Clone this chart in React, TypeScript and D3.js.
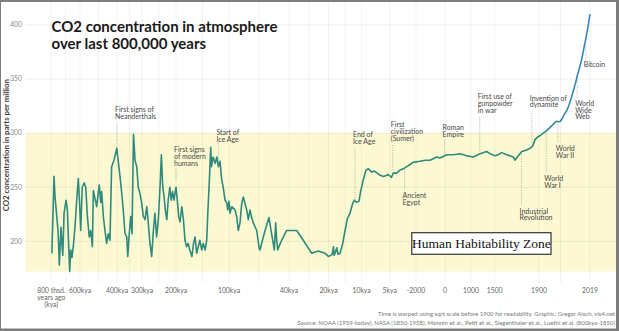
import React from 'react';
import * as d3 from 'd3';

const W = 619;
const H = 331;

// x-axis ticks (year CE; negative = BCE / years ago)
const tickYears = [-800000, -600000, -400000, -300000, -200000, -100000, -40000, -20000, -10000, -5000, -2000, 0, 1000, 1500, 1900, 2019];
const tickLabels = [
  ['800 thsd.', 'years ago', '(kya)'], ['600kya'], ['400kya'], ['300kya'], ['200kya'], ['100kya'],
  ['40kya'], ['20kya'], ['10kya'], ['5kya'], ['-2000'], ['0'], ['1000'], ['1500'], ['1900'], ['2019'],
];
const gridYears = [-800000, -700000, -600000, -500000, -400000, -350000, -300000, -250000, -200000, -150000, -100000, -70000, -40000, -30000, -20000, -15000, -10000, -5000, -2000, 0, 1000, 1500, 1900, 1950, 2019];
const yTicks = [200, 250, 300, 350, 400];
const habitableZone = [172, 300];

const years = [
  -796000, -781000, -774000, -768000, -762000, -753000, -744000, -737000, -732000, -725000, -720000, -711000, -697000, -688000, -680000, -672000, -665000, -656000, -647000, -635000, -623000, -612000, -605000,
  -596000, -588000, -577000, -569000, -560000, -550000, -542000, -533000, -528000, -517000, -510000, -501000, -496000, -488000, -483000, -474000, -465000, -456000, -447000, -438000, -429000, -416000, -405000, -401000,
  -397000, -388000, -381000, -375000, -368000, -361000, -357000, -351000, -345000, -340000, -334000, -328000, -321000, -315000, -308000, -301000,
  -296000, -291000, -286000, -281500, -276500, -271500, -266500, -262000, -257000, -252000, -247000, -243000, -239000, -235000, -231500, -227000, -223000, -218000, -214000, -210000, -206000,
  -200000, -197500, -195000, -192500, -189000, -186000, -183000, -180000, -177000, -174000, -170000, -167000, -164000, -161000, -158000, -155000, -151500, -148500, -145000, -142000, -140000, -137000, -134500, -133000, -130000, -126000, -123000, -120000, -117000, -114000, -111000, -107500, -104000, -102500,
  -100000, -99000, -97300, -94000, -92300, -90700, -89000, -87300, -85700, -84000, -82300, -80700, -79000, -77300, -75700, -72300, -69700, -69000, -65700, -63000, -60000, -58000, -56300, -54700, -53300, -52300, -51300, -49700, -47300, -42300,
  -36100, -32800, -28500, -25200, -21800,
  -20100, -19300, -18900, -18500, -18300, -18000, -17500, -17100, -16500, -15700, -15000, -14300, -13500, -12700, -12200, -11500, -10800, -10300,
  -9700, -9200, -8800, -8200, -7800, -7200, -6700, -6100, -5500, -5300,
  -4800, -4600, -4200, -3800, -3450, -3060, -2680, -2340,
  -1720, -1380, -1030, -570, -340,
  65, 320, 580, 835, 1050, 1190, 1330, 1400,
  1503, 1530, 1563, 1608, 1668, 1683, 1713, 1744, 1789, 1819, 1843, 1864, 1894,
  1900, 1910, 1920, 1930, 1940, 1945, 1950, 1955, 1960, 1965, 1970, 1975, 1980, 1985, 1990, 1995, 2000, 2005, 2010, 2015, 2019,
];
const co2 = [
  189, 260, 241, 232, 223, 210, 178, 200, 213, 195, 187, 226, 238, 229, 200, 172, 192, 185, 195, 213, 238, 258, 241,
  210, 250, 254, 250, 223, 204, 210, 195, 247, 238, 232, 245, 252, 236, 246, 223, 210, 198, 207, 201, 269, 275, 283, 286,
  278, 260, 244, 229, 207, 204, 186, 207, 223, 207, 299, 275, 269, 250, 244, 235,
  223, 220, 232, 217, 198, 186, 210, 226, 204, 220, 250, 280, 250, 241, 229, 220, 238, 250, 238, 246, 238,
  250, 238, 223, 218, 232, 220, 201, 195, 198, 192, 186, 198, 204, 189, 195, 201, 192, 198, 192, 201, 226, 257, 287, 269, 278, 272, 278, 269, 274, 258, 250, 238, 235, 229,
  237, 226, 232, 229, 223, 210, 217, 235, 241, 235, 229, 220, 229, 222, 217, 210, 193, 192, 204, 213, 222, 210, 201, 192, 217, 201, 192, 196, 201, 210,
  210, 201, 189, 191, 189,
  186, 187, 188, 195, 187, 189, 194, 188, 189, 198, 210, 221, 226, 235, 238, 236, 237, 246,
  257, 266, 267, 264, 265, 263, 261, 260, 261, 262,
  259, 263, 263, 266, 267, 269, 271, 273,
  274, 275, 275, 278, 277,
  280, 280, 281, 279, 278, 281, 283, 281,
  279, 280, 282, 280, 278, 275, 279, 283, 284.5, 286, 288, 294, 297,
  297, 300, 303, 307, 311, 310.5, 311, 314, 318, 321, 326, 332, 339, 346, 354, 361, 369, 379, 389, 400, 410,
];

// annotations: year of event, label lines, ppm level of first label line, dotted line from/to ppm
const annotations = [
  { year: -400000, lines: ['First signs of', 'Neanderthals'], label: 321.5, from: 308.5, to: 286.3 },
  { year: -200000, lines: ['First signs', 'of modern', 'humans'], label: 284.5, from: 266, to: 256.7 },
  { year: -120000, lines: ['Start of', 'Ice Age'], label: 300.5, from: 291, to: 275 },
  { year: -12000, lines: ['End of', 'Ice Age'], label: 298.3, from: 285.4, to: 238.2 },
  { year: -4650, lines: ['First', 'civilization', '(Sumer)'], label: 307.6, from: 289, to: 266 },
  { year: -3300, lines: ['Ancient', 'Egypt'], label: 242.2, from: 268.7, to: 247.5 },
  { year: -27, lines: ['Roman', 'Empire'], label: 305.1, from: 293.7, to: 279.8 },
  { year: 1184, lines: ['First use of', 'gunpowder', 'in war'], label: 333.5, from: 315, to: 283 },
  { year: 1742, lines: ['Industrial', 'Revolution'], label: 227.8, from: 283, to: 233.6 },
  { year: 1835, lines: ['Invention of', 'dynamite'], label: 332.3, from: 318.7, to: 291 },
  { year: 1917, lines: ['World', 'War I'], label: 257.7, from: 301.4, to: 263.2 },
  { year: 1944, lines: ['World', 'War II'], label: 285.4, from: 310.6, to: 290.7 },
  { year: 1989, lines: ['World', 'Wide', 'Web'], label: 327.3, from: 353.8, to: 332.3 },
  { year: 2009, lines: ['Bitcoin'], label: 363.3, from: 386, to: 367.7 },
];

const FONT = "Lato, 'Noto Sans', sans-serif";

export default function App() {
  const x = d3.scaleLinear()
    .domain(tickYears)
    .range([51.3, 80, 117, 142, 176, 229, 289, 328.5, 361.6, 389.7, 416, 445, 471, 494.7, 539, 590]);
  const y = d3.scaleLinear().domain([200, 400]).range([241.3, 25]);

  const line = d3.line<number>()
    .x((_, i) => x(years[i]))
    .y((d) => y(d));
  const path = line(co2) || '';

  const plotLeft = 25.5;
  const plotRight = 616;

  return (
    <svg width={W} height={H} style={{ position: 'absolute', left: 0, top: 0, display: 'block' }}>
      <defs>
        <linearGradient id="lineGrad" gradientUnits="userSpaceOnUse" x1={x(1850)} y1={0} x2={x(2019)} y2={0}>
          <stop offset="0" stopColor="#2e8a7d" />
          <stop offset="1" stopColor="#3a85c6" />
        </linearGradient>
      </defs>
      <rect x={0} y={0} width={W} height={H} fill="#7d7d7d" />
      <rect x={1} y={2} width={W - 4} height={H - 4.5} fill="#ffffff" />

      {/* habitability zone */}
      <rect x={plotLeft} y={y(habitableZone[1])} width={plotRight - plotLeft}
        height={y(habitableZone[0]) - y(habitableZone[1])} fill="#fcf9d2" />

      {/* grid */}
      {yTicks.map((t) => (
        <line key={'gy' + t} x1={plotLeft} x2={plotRight} y1={y(t)} y2={y(t)} stroke="#000" strokeOpacity={0.07} strokeWidth={1} />
      ))}
      {gridYears.map((g) => (
        <line key={'gx' + g} x1={x(g)} x2={x(g)} y1={2} y2={283} stroke="#000" strokeOpacity={0.05} strokeWidth={1} />
      ))}

      {/* y axis labels */}
      {yTicks.map((t) => (
        <text key={'yl' + t} x={22} y={y(t) + 2.3} textAnchor="end" fontFamily={FONT} fontSize={6.8} fill="#8a8a8a">{t}</text>
      ))}
      <text transform={`translate(8.5,${y(300) + 12}) rotate(-90)`} textAnchor="middle" fontFamily={FONT}
        fontSize={7.8} fontWeight={700} fill="#3a3a3a">CO2 concentration in parts per million</text>

      {/* x axis labels */}
      {tickYears.map((t, i) => (
        <text key={'xl' + t} x={x(t)} y={292.5} textAnchor="middle" fontFamily={FONT} fontSize={6.8} fill="#666">
          {tickLabels[i].map((l, j) => (
            <tspan key={j} x={x(t)} dy={j === 0 ? 0 : 7.2}>{l}</tspan>
          ))}
        </text>
      ))}

      {/* annotations */}
      {annotations.map((a) => (
        <g key={a.lines.join(' ')}>
          <line x1={x(a.year)} x2={x(a.year)} y1={y(a.from)} y2={y(a.to)} stroke="#9a9a9a" strokeWidth={0.8} strokeDasharray="1,1.4" />
          <text x={x(a.year) - 2} y={y(a.label) + 2.4} fontFamily={FONT} fontSize={7} fill="#474747">
            {a.lines.map((l, j) => (
              <tspan key={j} x={x(a.year) - 2} dy={j === 0 ? 0 : 6.7}>{l}</tspan>
            ))}
          </text>
        </g>
      ))}

      {/* data line */}
      <path d={path} fill="none" stroke="url(#lineGrad)" strokeWidth={1.6} strokeLinejoin="round" />

      {/* title */}
      <text x={51.5} y={32.3} fontFamily={FONT} fontSize={15} fontWeight={700} fill="#1a1a1a">
        <tspan x={51.5}>CO2 concentration in atmosphere</tspan>
        <tspan x={51.5} dy={17}>over last 800,000 years</tspan>
      </text>

      {/* habitability label */}
      <rect x={411.8} y={232.7} width={139.2} height={21.6} fill="#ffffff" stroke="#333" strokeWidth={1.2} />
      <text x={481.4} y={247.8} textAnchor="middle" fontFamily="'Liberation Serif', 'DejaVu Serif', serif" fontSize={13.5} fill="#111">Human Habitability Zone</text>

      {/* footer */}
      <text x={615} y={315.5} textAnchor="end" fontFamily={FONT} fontSize={6} fill="#777">
        Time is warped using sqrt scale before 1900 for readability. Graphic: Gregor Aisch, vis4.net
      </text>
      <text x={615} y={325} textAnchor="end" fontFamily={FONT} fontSize={6} fill="#777">
        Source: NOAA (1959-today), NASA (1850-1958), Monnin et al., Petit et al., Siegenthaler et al., Luethi et al. (800kya-1850)
      </text>
    </svg>
  );
}
